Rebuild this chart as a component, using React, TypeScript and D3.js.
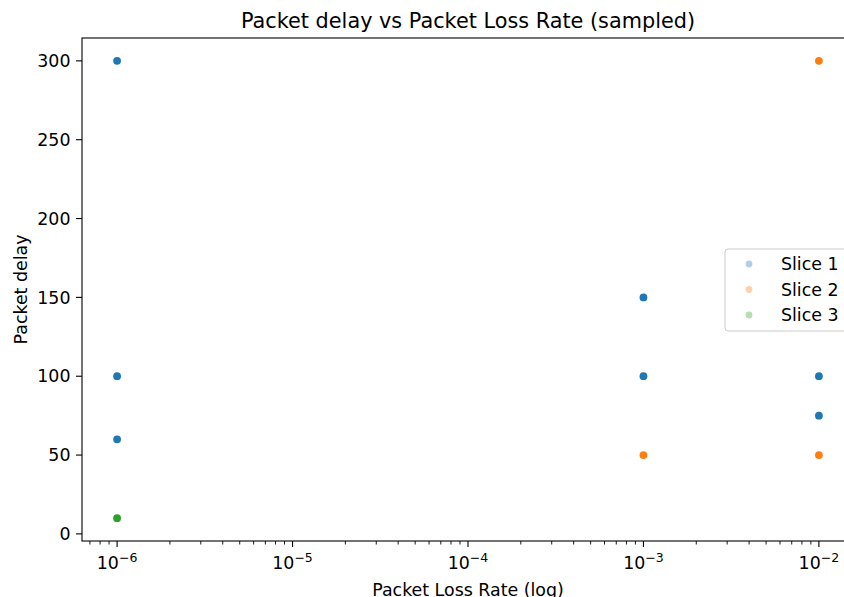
import * as React from 'react';
import * as d3 from 'd3';

const WIDTH = 844;
const HEIGHT = 597;

// data
const seriesNames = ['Slice 1', 'Slice 2', 'Slice 3'];
const seriesColors = ['#1f77b4', '#ff7f0e', '#2ca02c'];
const slice1Loss = [1e-6, 1e-6, 1e-6, 1e-3, 1e-3, 1e-2, 1e-2];
const slice1Delay = [300, 100, 60, 150, 100, 100, 75];
const slice2Loss = [1e-3, 1e-2, 1e-2];
const slice2Delay = [50, 300, 50];
const slice3Loss = [1e-6];
const slice3Delay = [10];
const yTicks = [0, 50, 100, 150, 200, 250, 300];
const xMajorExps = [-6, -5, -4, -3, -2];

const FONT = 'DejaVu Sans, sans-serif';
const FS = 17.4;

const App = () => {
  const margin = { left: 82, top: 38, right: 854, bottom: 541 };

  const x = d3.scaleLog().domain([1e-6 / Math.pow(10, 0.2), 1e-2 * Math.pow(10, 0.2)]).range([margin.left, margin.right]);
  const y = d3.scaleLinear().domain([-4.5, 314.5]).range([margin.bottom, margin.top]);

  const series = [
    { loss: slice1Loss, delay: slice1Delay },
    { loss: slice2Loss, delay: slice2Delay },
    { loss: slice3Loss, delay: slice3Delay },
  ];

  const allTicks = x.ticks();
  const minorTicks = allTicks.filter((t) => {
    const e = Math.log10(t);
    return Math.abs(e - Math.round(e)) > 1e-6;
  });

  const legendX = 725;
  const legendY = 249;

  return (
    <svg width={WIDTH} height={HEIGHT} style={{ position: 'absolute', left: 0, top: 0, background: '#fff' }} fontFamily={FONT}>
      <rect x={0} y={0} width={WIDTH} height={HEIGHT} fill="#fff" />

      {/* title */}
      <text x={(margin.left + margin.right) / 2} y={28} textAnchor="middle" fontSize={20.8} fill="#000">
        Packet delay vs Packet Loss Rate (sampled)
      </text>

      {/* points */}
      {series.map((s, i) => (
        <g key={i} fill={seriesColors[i]}>
          {s.loss.map((l, j) => (
            <circle key={j} cx={x(l)} cy={y(s.delay[j])} r={3.9} />
          ))}
        </g>
      ))}

      {/* spines */}
      <rect x={margin.left} y={margin.top} width={margin.right - margin.left} height={margin.bottom - margin.top}
        fill="none" stroke="#000" strokeWidth={1.1} />

      {/* y axis */}
      {yTicks.map((t) => (
        <g key={t}>
          <line x1={margin.left} x2={margin.left - 6} y1={y(t)} y2={y(t)} stroke="#000" strokeWidth={1.1} />
          <text x={margin.left - 11.5} y={y(t)} dy="0.36em" textAnchor="end" fontSize={FS} fill="#000">{t}</text>
        </g>
      ))}
      <text transform={`translate(27,${(margin.top + margin.bottom) / 2}) rotate(-90)`} textAnchor="middle" fontSize={FS} fill="#000">
        Packet delay
      </text>

      {/* x axis */}
      {minorTicks.map((t, i) => (
        <line key={i} x1={x(t)} x2={x(t)} y1={margin.bottom} y2={margin.bottom + 3.5} stroke="#000" strokeWidth={0.9} />
      ))}
      {xMajorExps.map((e) => {
        const px = x(Math.pow(10, e));
        return (
          <g key={e}>
            <line x1={px} x2={px} y1={margin.bottom} y2={margin.bottom + 6} stroke="#000" strokeWidth={1.1} />
            <text x={px} y={569} textAnchor="middle" fontSize={FS} fill="#000">
              10<tspan dy={-7} fontSize={12.5}>{`\u2212${Math.abs(e)}`}</tspan>
            </text>
          </g>
        );
      })}
      <text x={(margin.left + margin.right) / 2} y={596} textAnchor="middle" fontSize={FS} fill="#000">
        Packet Loss Rate (log)
      </text>

      {/* legend */}
      <rect x={legendX} y={legendY} width={122} height={82} rx={3} fill="#fff" fillOpacity={0.8} stroke="#ccc" strokeWidth={1} />
      {seriesNames.map((name, i) => (
        <g key={name}>
          <circle cx={749} cy={legendY + 15 + i * 25.5} r={3.4} fill={seriesColors[i]} fillOpacity={0.35} />
          <text x={781} y={legendY + 15 + i * 25.5} dy="0.36em" fontSize={FS} fill="#000">{name}</text>
        </g>
      ))}
    </svg>
  );
};

export default App;
